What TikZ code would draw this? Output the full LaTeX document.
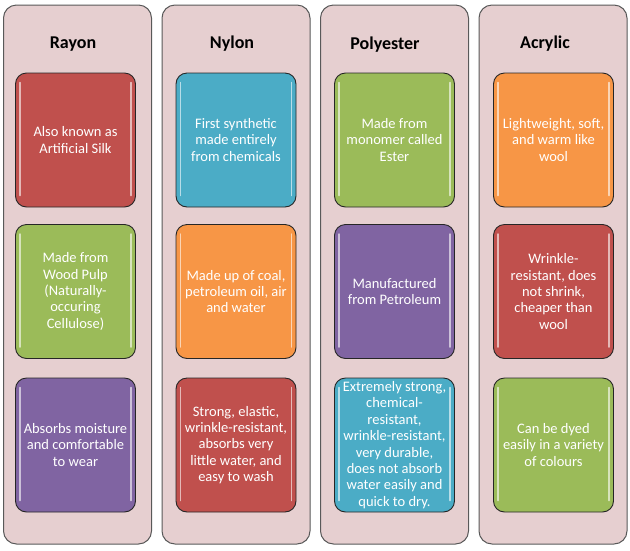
\documentclass[tikz,border=0pt]{standalone}
\usepackage{fontspec}
\setmainfont{Carlito}
\definecolor{colpink}{RGB}{230,207,208}
\definecolor{fibred}{HTML}{C0504D}
\definecolor{fibblue}{HTML}{4BACC6}
\definecolor{fibgreen}{HTML}{9BBB59}
\definecolor{fibpurple}{HTML}{8064A2}
\definecolor{fiborange}{HTML}{F79646}
\tikzset{
  column/.style={draw=black!65,line width=1pt,fill=colpink,rounded corners=13pt,
    minimum width=148pt,minimum height=539pt},
  head/.style={font=\fontsize{18}{22}\selectfont\bfseries,text=black},
  card/.style={draw=black!85,line width=0.9pt,fill=#1,rounded corners=11pt,
    minimum width=120pt,minimum height=134pt,text=white,align=center,
    font=\fontsize{14.5}{16.4}\selectfont,inner sep=0pt},
  shine/.style={white,opacity=0.6,line width=1.6pt,line cap=round}
}
\begin{document}
\begin{tikzpicture}[x=1pt,y=-1pt]
  \useasboundingbox (0,0) rectangle (630,550);
  \node[column] (rayon) at (77.5,274.5) {};
  \node[column] (nylon) at (236,274.5) {};
  \node[column] (poly) at (394.5,274.5) {};
  \node[column] (acryl) at (553,274.5) {};
  \draw
    (73,44) node[head] (rayonhead){Rayon}
    (232,44) node[head] (nylonhead){Nylon}
    (385,45) node[head] (polyhead){Polyester}
    (545,44) node[head] (acrylhead){Acrylic};
  \draw
    (75.5,140) node[card=fibred] (r1){Also known as\\Artificial Silk}
    (75.5,291.5) node[card=fibgreen] (r2){Made from\\Wood Pulp\\(Naturally-\\occuring\\Cellulose)}
    (75.5,445) node[card=fibpurple] (r3){Absorbs moisture\\and comfortable\\to wear}
    (236,140) node[card=fibblue] (n1){First synthetic\\made entirely\\from chemicals}
    (236,291.5) node[card=fiborange] (n2){Made up of coal,\\petroleum oil, air\\and water}
    (236,445) node[card=fibred] (n3){Strong, elastic,\\wrinkle-resistant,\\absorbs very\\little water, and\\easy to wash}
    (394.5,140) node[card=fibgreen] (p1){Made from\\monomer called\\Ester}
    (394.5,291.5) node[card=fibpurple] (p2){Manufactured\\from Petroleum}
    (394.5,445) node[card=fibblue] (p3){Extremely strong,\\chemical-\\resistant,\\wrinkle-resistant,\\very durable,\\does not absorb\\water easily and\\quick to dry.}
    (553.5,140) node[card=fiborange] (a1){Lightweight, soft,\\and warm like\\wool}
    (553.5,291.5) node[card=fibred] (a2){Wrinkle-\\resistant, does\\not shrink,\\cheaper than\\wool}
    (553.5,445) node[card=fibgreen] (a3){Can be dyed\\easily in a variety\\of colours};
  \begin{scope}[shine]
    \foreach \c in {r1,r2,r3,n1,n2,n3,p1,p2,p3,a1,a2,a3} {
      \draw ([xshift=5pt,yshift=-10pt]\c.north west) -- ([xshift=5pt,yshift=12pt]\c.south west);
      \draw ([xshift=-5pt,yshift=-10pt]\c.north east) -- ([xshift=-5pt,yshift=12pt]\c.south east);
    }
  \end{scope}
\end{tikzpicture}
\end{document}
